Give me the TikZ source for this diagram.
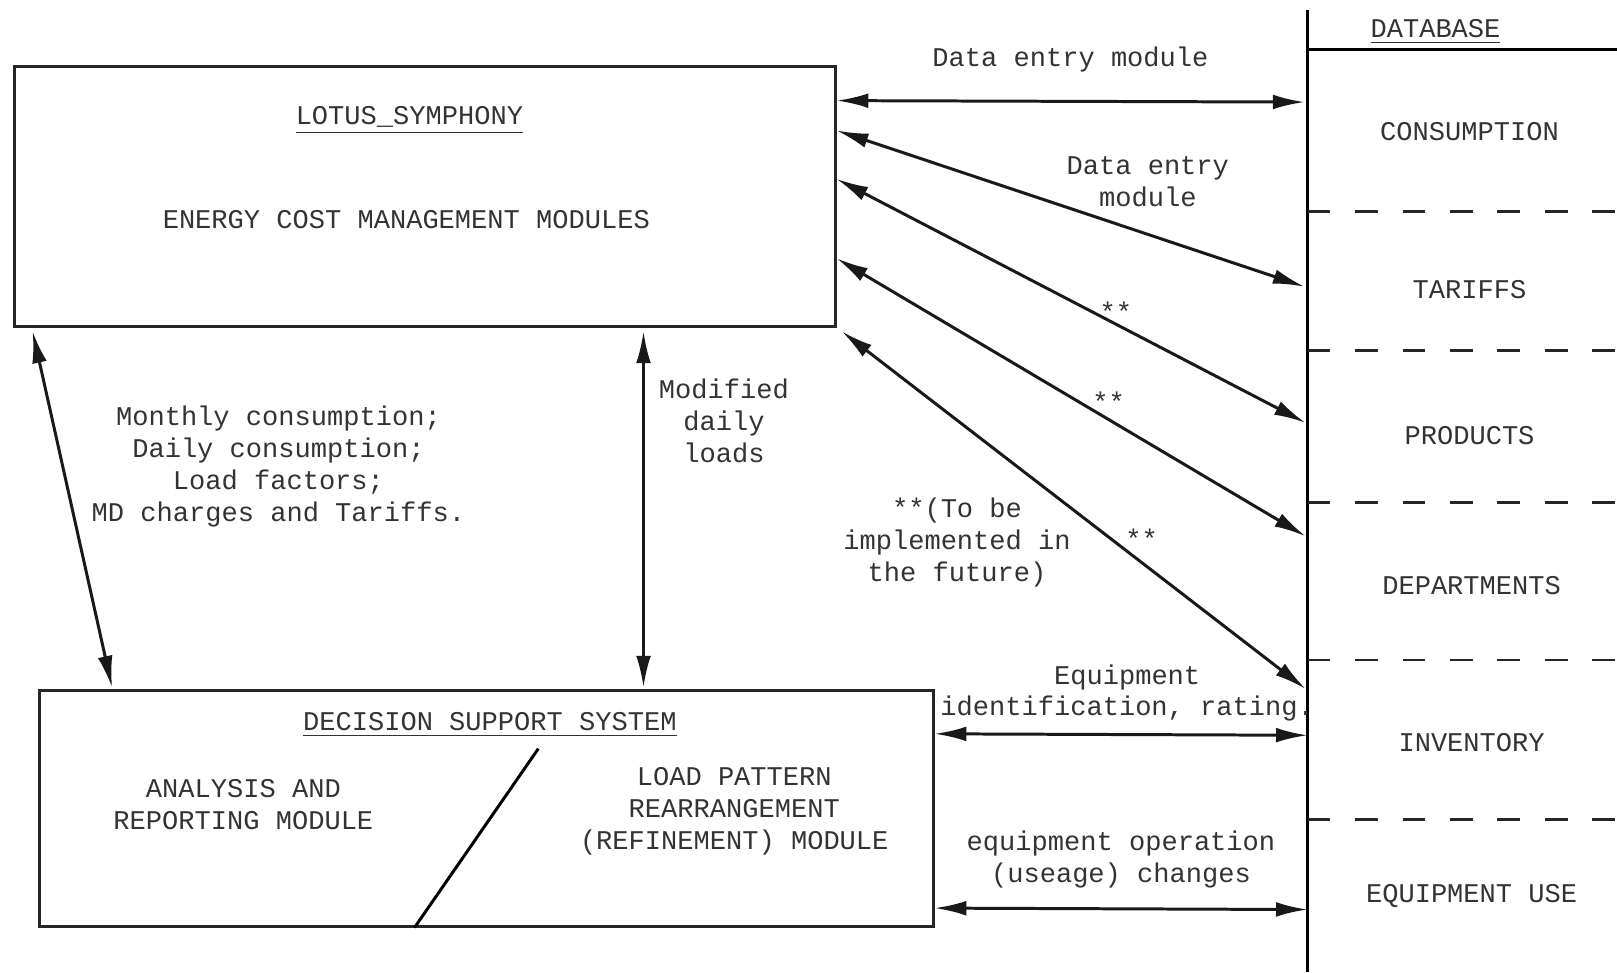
\documentclass[tikz,border=0pt]{standalone}
\usepackage{fontspec}
\setmainfont{Liberation Mono}
\usetikzlibrary{arrows.meta,calc}

\begin{document}
\begin{tikzpicture}[x=0.010313cm, y=-0.010313cm,
box/.style={draw=black!85, line width=0.85pt, inner sep=0pt},
txt/.style={align=center, text=black!80, inner sep=1pt, font=\fontsize{7.7}{9.1}\selectfont},
link/.style={{Latex[length=9pt,width=4.2pt]}-{Latex[length=9pt,width=4.2pt]}, line width=0.85pt, black!90},
sep/.style={line width=0.8pt, dash pattern=on 6.5pt off 7pt, black!85}
]
\useasboundingbox (0,0) rectangle (1568,943);
%Boxes
\node[box, minimum width=8.209cm, minimum height=2.609cm] (lotus) at (412,190.5) {};
\node[box, minimum width=8.941cm, minimum height=2.351cm] (dss)   at (471.5,784) {};
\node[txt] (lotustitle) at (397,117) {\underline{LOTUS\_SYMPHONY}};
\node[txt] (ecm)        at (394,213) {ENERGY COST MANAGEMENT MODULES};
\node[txt] (dsstitle)   at (475,703) {\underline{DECISION SUPPORT SYSTEM}};
\node[txt] (arm)        at (236,780) {ANALYSIS AND\\REPORTING MODULE};
\node[txt] (lpr)        at (712,787) {LOAD PATTERN\\REARRANGEMENT\\(REFINEMENT) MODULE};
\draw[line width=0.85pt] ($(dss.south)+(-69.5,0)$) -- (522,726);
%Database
\draw[line width=0.85pt] (1268,10) -- (1268,943);
\draw[line width=0.85pt] (1268,48) -- (1568,48);
\node[txt] (dbtitle) at (1392,31) {\underline{DATABASE}};
\foreach \y in {205,340,487,640,795}
  \draw[sep] (1268,\y) -- (1568,\y);
\node[txt] (cons)  at (1425,128) {CONSUMPTION};
\node[txt] (tarf)  at (1425,281) {TARIFFS};
\node[txt] (prod)  at (1425,422) {PRODUCTS};
\node[txt] (dept)  at (1427,568) {DEPARTMENTS};
\node[txt] (inv)   at (1427,720) {INVENTORY};
\node[txt] (equse) at (1427,869) {EQUIPMENT USE};
%Ends on the database line
\coordinate (d1) at (1265,99);
\coordinate (d2) at (1265,278);
\coordinate (d3) at (1266,410);
\coordinate (d4) at (1266,520);
\coordinate (d5) at (1266,668);
\coordinate (d6) at (1268,713);
\coordinate (d7) at (1268,882);
%Lines
\draw[link] ($(lotus.north east)+(0,35)$)  -- (d1);
\draw[link] ($(lotus.north east)+(0,64)$)  -- (d2);
\draw[link] ($(lotus.north east)+(0,111)$) -- (d3);
\draw[link] ($(lotus.north east)+(0,188)$) -- (d4);
\draw[link] ($(lotus.south east)+(5,3)$)   -- (d5);
\draw[link] ($(dss.north east)+(0,43)$)    -- (d6);
\draw[link] ($(dss.north east)+(0,212)$)   -- (d7);
\draw[link] ($(lotus.south west)+(19,3)$)  -- ($(dss.north west)+(72,-2)$);
\draw[link] ($(lotus.south)+(212,3)$)      -- ($(dss.north)+(152.5,-2)$);
%Labels
\node[txt] (l1)   at (1038,58)  {Data entry module};
\node[txt] (l2)   at (1113,176) {Data entry\\module};
\node[txt] (s3)   at (1082,302) {**};
\node[txt] (s4)   at (1075,390) {**};
\node[txt] (s5)   at (1107,522) {**};
\node[txt] (fut)  at (928,526)  {**(To be\\implemented in\\the future)};
\node[txt] (l6)   at (1093,672) {Equipment\\identification, rating.};
\node[txt] (l7)   at (1087,833) {equipment operation\\(useage) changes};
\node[txt] (mon)  at (270,452)  {Monthly consumption;\\Daily consumption;\\Load factors;\\MD charges and Tariffs.};
\node[txt] (mod)  at (702,408)  {Modified\\daily\\loads};
\end{tikzpicture}
\end{document}
